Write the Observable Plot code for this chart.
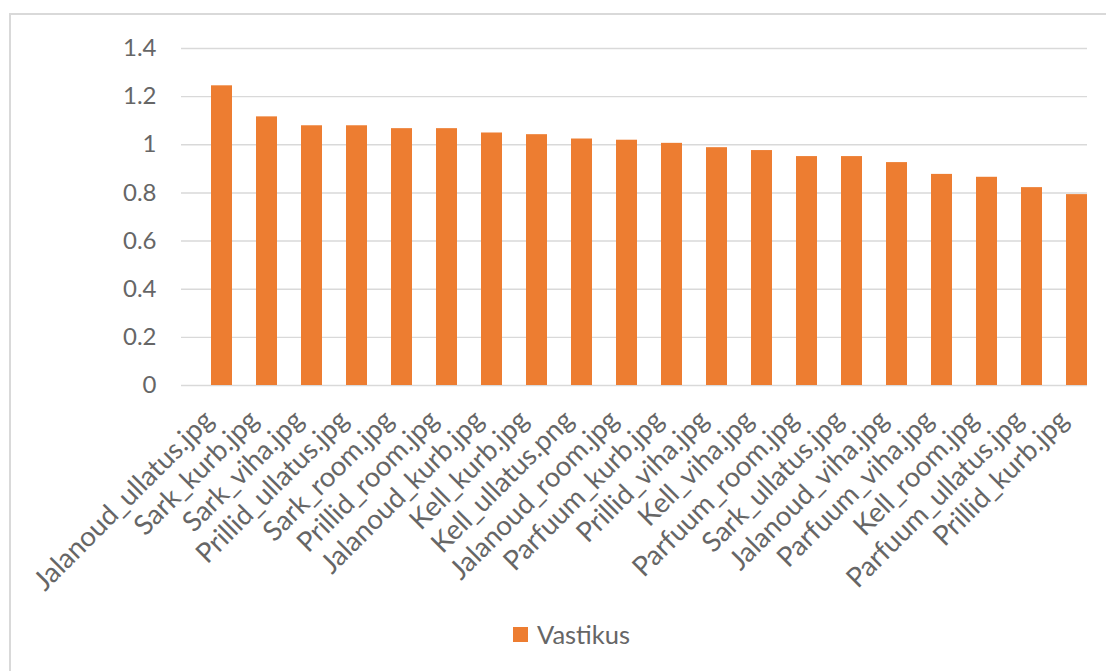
<!DOCTYPE html>
<html>
<head>
<meta charset="utf-8">
<script src="https://cdn.jsdelivr.net/npm/d3@7"></script>
<script src="https://cdn.jsdelivr.net/npm/@observablehq/plot@0.6"></script>
<style>
  html, body { margin: 0; padding: 0; background: #fff; }
  #wrap { position: relative; width: 1106px; height: 671px; overflow: hidden; font-family: Lato, "Open Sans", sans-serif; }
  #frame { position: absolute; left: 9px; top: 13px; width: 1200px; height: 800px;
           border-left: 2px solid #d9d9d9; border-top: 2px solid #d9d9d9; box-sizing: border-box; }
  #chart { position: absolute; left: 0; top: 0; }
  #legend { position: absolute; left: 513px; top: 619px; display: flex; align-items: center;
            color: #666666; font-size: 25.5px; }
  #legend .sw { width: 15px; height: 15px; background: #ED7D31; margin-right: 9px; }
</style>
</head>
<body>
<div id="wrap">
  <div id="frame"></div>
  <div id="chart"></div>
  <div id="legend"><span class="sw"></span><span>Vastikus</span></div>
</div>
<script>
// Image files, ordered by mean "Vastikus" (disgust) score
const images = [
  "Jalanoud_ullatus.jpg", "Sark_kurb.jpg", "Sark_viha.jpg", "Prillid_ullatus.jpg",
  "Sark_room.jpg", "Prillid_room.jpg", "Jalanoud_kurb.jpg", "Kell_kurb.jpg",
  "Kell_ullatus.png", "Jalanoud_room.jpg", "Parfuum_kurb.jpg", "Prillid_viha.jpg",
  "Kell_viha.jpg", "Parfuum_room.jpg", "Sark_ullatus.jpg", "Jalanoud_viha.jpg",
  "Parfuum_viha.jpg", "Kell_room.jpg", "Parfuum_ullatus.jpg", "Prillid_kurb.jpg"
];
const vastikus = [
  1.245, 1.116, 1.079, 1.079, 1.067, 1.067, 1.049, 1.042, 1.024, 1.019,
  1.006, 0.988, 0.976, 0.951, 0.951, 0.926, 0.877, 0.865, 0.822, 0.793
];
const yTicks = [0, 0.2, 0.4, 0.6, 0.8, 1, 1.2, 1.4];

const rows = images.map((name, i) => ({name, value: vastikus[i]}));

const textColor = "#666666";
const gridColor = "#d9d9d9";

const chart = Plot.plot({
  width: 1106,
  height: 600,
  marginTop: 48,
  marginBottom: 215,
  marginLeft: 181,
  marginRight: 19,
  style: {fontFamily: "Lato, 'Open Sans', sans-serif", color: textColor, background: "transparent"},
  x: {type: "band", domain: images, paddingInner: 0.54, paddingOuter: 0.27, align: 1, label: null},
  y: {domain: [0, 1.4], label: null},
  marks: [
    Plot.gridY(yTicks, {stroke: gridColor, strokeOpacity: 1, strokeWidth: 1.4}),
    Plot.barY(rows, {x: "name", y: "value", fill: "#ED7D31"}),
    Plot.axisY(yTicks, {
      tickSize: 0, tickPadding: 25, fontSize: 24, fill: textColor,
      tickFormat: d => String(+d.toFixed(1))
    }),
    Plot.axisX({
      tickSize: 0, tickPadding: 18, tickRotate: -45, fontSize: 27.5, fill: textColor,
      dx: -13, dy: 12
    })
  ]
});

document.getElementById("chart").appendChild(chart);
</script>
</body>
</html>
